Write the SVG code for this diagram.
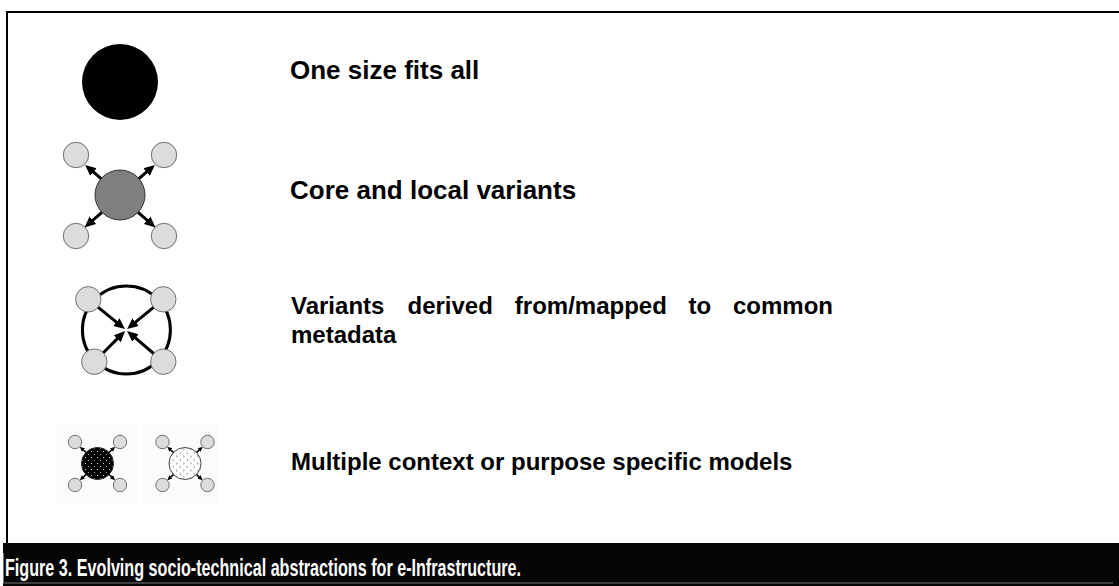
<svg xmlns="http://www.w3.org/2000/svg" width="1119" height="586" viewBox="0 0 1119 586">
<style>
.lbl{font-family:"Liberation Sans",Arial,sans-serif;font-weight:bold;font-size:24px;fill:#000}
.big{font-size:26px}
.cap{font-family:"Liberation Sans",Arial,sans-serif;font-weight:bold;font-size:24px;fill:#fff}
.sat{fill:#dcdcdc;stroke:#707070;stroke-width:1}
.arr{stroke:#000;stroke-width:3;fill:none;marker-end:url(#ah)}
.arrs{stroke:#000;stroke-width:1.5;fill:none;marker-end:url(#ahs)}
</style>
<defs>
<marker id="ah" viewBox="0 0 10 10" refX="4" refY="5" markerWidth="11" markerHeight="11" markerUnits="userSpaceOnUse" orient="auto"><path d="M0,0.5 L10,5 L0,9.5 z" fill="#000"/></marker>
<marker id="ahs" viewBox="0 0 10 10" refX="4" refY="5" markerWidth="5" markerHeight="5" markerUnits="userSpaceOnUse" orient="auto"><path d="M0,0.5 L10,5 L0,9.5 z" fill="#000"/></marker>
<pattern id="pDark" width="6" height="6" patternUnits="userSpaceOnUse"><rect width="6" height="6" fill="#000"/><circle cx="1.5" cy="1.5" r="0.6" fill="#fff"/><circle cx="4.5" cy="4.5" r="0.6" fill="#bbb"/></pattern>
<pattern id="pLight" width="7" height="7" patternUnits="userSpaceOnUse"><rect width="7" height="7" fill="#fff"/><path d="M1,0.5 L2.5,1.5 L1,2.5" stroke="#777" stroke-width="0.6" fill="none"/><path d="M4.5,4 L6,5 L4.5,6" stroke="#777" stroke-width="0.6" fill="none"/></pattern>
</defs>
<rect width="1119" height="586" fill="#fff"/>
<g id="frame">
<path d="M7,544 V12 H1119" fill="none" stroke="#000" stroke-width="2"/>
</g>
<g id="one-size">
<circle cx="120" cy="82" r="38" fill="#000"/>
<text class="lbl big" x="290" y="79">One size fits all</text>
</g>
<g id="core-local">
<circle cx="120" cy="195" r="25" fill="#7f7f7f" stroke="#333" stroke-width="1"/>
<circle class="sat" cx="76" cy="155" r="12.7"/>
<circle class="sat" cx="164" cy="155" r="12.7"/>
<circle class="sat" cx="76" cy="236" r="12.7"/>
<circle class="sat" cx="164" cy="236" r="12.7"/>
<text class="lbl big" x="290" y="199">Core and local variants</text>
</g>
<g id="common-metadata">
<circle cx="126.4" cy="330" r="44" fill="#fff" stroke="#000" stroke-width="3"/>
<circle class="sat" cx="88.3" cy="299.3" r="12.7"/>
<circle class="sat" cx="163.3" cy="299.3" r="12.7"/>
<circle class="sat" cx="94.3" cy="361.7" r="12.7"/>
<circle class="sat" cx="163.3" cy="361.7" r="12.7"/>
<text class="lbl" y="314"><tspan x="291">Variants</tspan><tspan x="407.5">derived</tspan><tspan x="514.8">from/mapped</tspan><tspan x="688.4">to</tspan><tspan x="833" text-anchor="end">common</tspan></text>
<text class="lbl" x="291" y="343">metadata</text>
</g>
<g id="multiple-models">
<rect x="57" y="425" width="81" height="78" fill="#fbfbfb"/>
<rect x="143" y="425" width="75" height="78" fill="#fbfbfb"/>
<circle cx="97.5" cy="463.5" r="16" fill="url(#pDark)" stroke="#222" stroke-width="1"/>
<circle class="sat" cx="75" cy="442" r="6.7"/>
<circle class="sat" cx="120" cy="442" r="6.7"/>
<circle class="sat" cx="75" cy="485" r="6.7"/>
<circle class="sat" cx="120" cy="485" r="6.7"/>
<circle cx="185" cy="463.5" r="16" fill="url(#pLight)" stroke="#444" stroke-width="1"/>
<circle class="sat" cx="162.5" cy="442" r="6.7"/>
<circle class="sat" cx="207.5" cy="442" r="6.7"/>
<circle class="sat" cx="162.5" cy="485" r="6.7"/>
<circle class="sat" cx="207.5" cy="485" r="6.7"/>
<text class="lbl" x="291" y="470">Multiple context or purpose specific models</text>
</g>
<g id="connectors">
<line class="arr" x1="101.1" y1="178.6" x2="90.1" y2="169.2"/>
<line class="arr" x1="138.9" y1="178.6" x2="149.9" y2="169.2"/>
<line class="arr" x1="101.9" y1="212.3" x2="89.5" y2="223.1"/>
<line class="arr" x1="138.1" y1="212.3" x2="150.5" y2="223.1"/>
<line class="arr" x1="98.2" y1="307.3" x2="119.8" y2="324.9"/>
<line class="arr" x1="153.5" y1="307.4" x2="132.2" y2="324.9"/>
<line class="arr" x1="103.3" y1="352.7" x2="120.4" y2="335.6"/>
<line class="arr" x1="153.6" y1="353.5" x2="132.1" y2="335.2"/>
<line class="arrs" x1="85.9" y1="452.4" x2="82" y2="448.7"/>
<line class="arrs" x1="109.1" y1="452.4" x2="113" y2="448.7"/>
<line class="arrs" x1="85.9" y1="474.6" x2="82" y2="478.3"/>
<line class="arrs" x1="109.1" y1="474.6" x2="113" y2="478.3"/>
<line class="arrs" x1="173.4" y1="452.4" x2="169.5" y2="448.7"/>
<line class="arrs" x1="196.6" y1="452.4" x2="200.5" y2="448.7"/>
<line class="arrs" x1="173.4" y1="474.6" x2="169.5" y2="478.3"/>
<line class="arrs" x1="196.6" y1="474.6" x2="200.5" y2="478.3"/>
</g>
<g id="caption">
<rect x="3" y="543" width="1116" height="43" fill="#050505"/>
<path d="M3.5,553 V583 H1113" fill="none" stroke="#777" stroke-width="1"/>
<text class="cap" x="5" y="576" textLength="516" lengthAdjust="spacingAndGlyphs">Figure 3. Evolving socio-technical abstractions for e-Infrastructure.</text>
</g>
</svg>
